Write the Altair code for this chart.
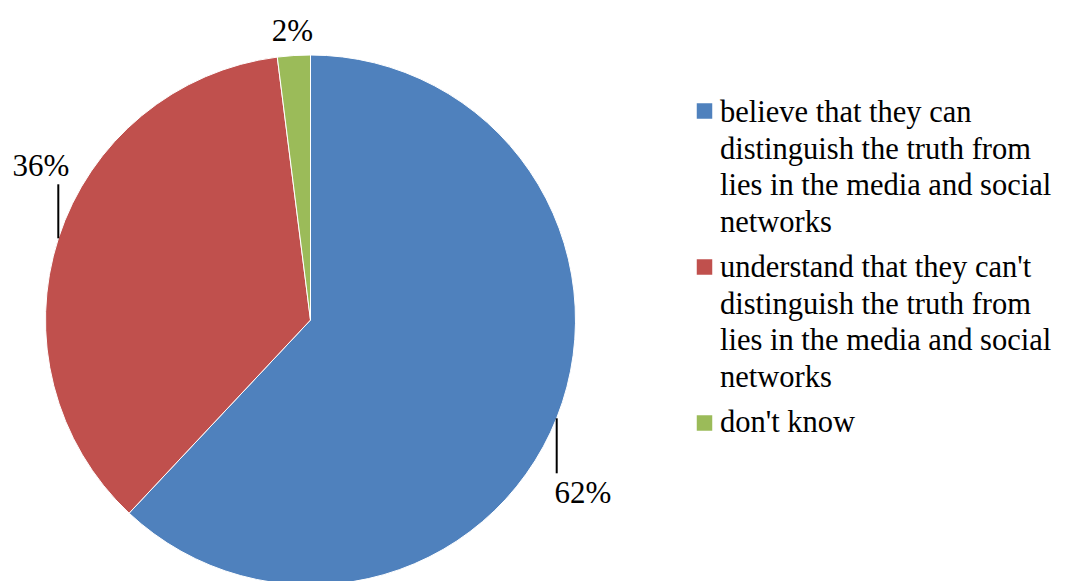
import altair as alt
import pandas as pd

categories = [
    "believe that they can distinguish the truth from lies in the media and social networks",
    "understand that they can't distinguish the truth from lies in the media and social networks",
    "don't know",
]
legend_lines = [
    "believe that they can|distinguish the truth from|lies in the media and social|networks",
    "understand that they can't|distinguish the truth from|lies in the media and social|networks",
    "don't know",
]
values = [62, 36, 2]
colors = ["#4F81BD", "#C0504D", "#9BBB59"]

df = pd.DataFrame({
    "category": categories,
    "legend": legend_lines,
    "value": values,
    "order": list(range(len(categories))),
})

FONT = "Liberation Serif, Times New Roman, serif"
base = alt.Chart(df)
color = alt.Color("category:N", scale=alt.Scale(domain=categories, range=colors), legend=None)

pie = base.mark_arc(outerRadius=265, stroke="white", strokeWidth=1).encode(
    theta=alt.Theta("value:Q", stack=True),
    color=color,
    order=alt.Order("order:Q"),
    x=alt.value(302.5),
    y=alt.value(312),
)

label_pos = {0: (575, 495), 1: (33, 168), 2: (284.5, 32.5)}
label_layers = []
for i, (lx, ly) in label_pos.items():
    label_layers.append(
        base.transform_filter(alt.datum.order == i)
        .transform_calculate(pct="format(datum.value, 'd') + '%'")
        .mark_text(font=FONT, fontSize=31, color="black", align="center", baseline="alphabetic")
        .encode(text="pct:N", x=alt.value(lx), y=alt.value(ly))
    )

lead1 = base.transform_filter(alt.datum.order == 1).mark_rule(color="black", strokeWidth=2).encode(
    x=alt.value(50.3), y=alt.value(176.3), y2=alt.value(230.3))
lead0 = base.transform_filter(alt.datum.order == 0).mark_rule(color="black", strokeWidth=2).encode(
    x=alt.value(548.7), y=alt.value(410.3), y2=alt.value(465.3))

squares = base.mark_square(size=240, opacity=1).encode(
    x=alt.value(696.5),
    y=alt.Y("order:Q", scale=alt.Scale(domain=[0, 2], range=[103, 415]), axis=None),
    color=color,
)

legend_text = base.transform_calculate(lines="split(datum.legend, '|')").mark_text(
    font=FONT, fontSize=30.5, color="black", align="left", baseline="alphabetic", lineHeight=36.7
).encode(
    x=alt.value(712),
    y=alt.Y("order:Q", scale=alt.Scale(domain=[0, 2], range=[114, 424]), axis=None),
    text=alt.Text("lines:N"),
)

chart = alt.layer(pie, *label_layers, lead1, lead0, squares, legend_text).resolve_scale(
    y="independent"
).properties(
    width=1052, height=580, autosize=alt.AutoSizeParams(type="none"), padding=0
).configure_view(stroke=None)

chart.save("out.html", embed_options={"renderer": "svg", "actions": False})
